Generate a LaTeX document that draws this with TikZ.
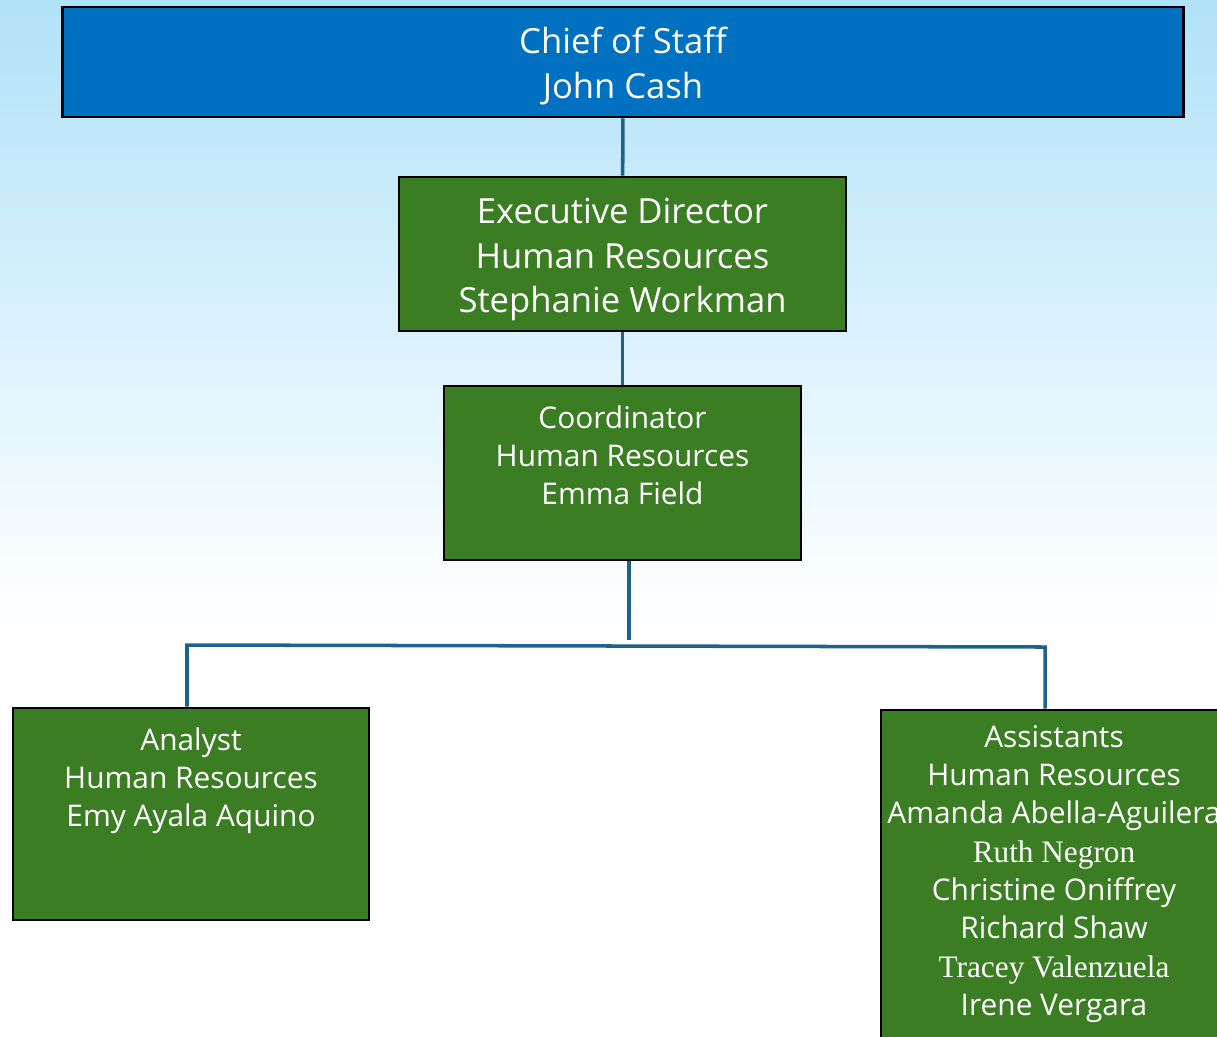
\documentclass[tikz,border=0pt]{standalone}
\usepackage{fontspec}
\setmainfont{Open Sans}
\newfontfamily\namefont{Liberation Serif}
\definecolor{skytop}{RGB}{176,226,248}
\definecolor{chiefblue}{RGB}{0,112,192}
\definecolor{unitgreen}{RGB}{59,125,35}
\definecolor{linkblue}{RGB}{30,98,138}

\begin{document}
\begin{tikzpicture}[x=0.02cm, y=-0.02cm,
    box/.style={rectangle, draw=black, line width=1.6pt, inner sep=0pt},
    bigtext/.style={text=white, align=center, inner sep=0pt, font=\fontsize{19.7}{25.5}\selectfont},
    smalltext/.style={text=white, align=center, inner sep=0pt, anchor=north, font=\fontsize{17}{21.8}\selectfont},
    link/.style={line width=2pt, linkblue}]
  \useasboundingbox (0,0) rectangle (1217,1036);
  \shade[top color=skytop, bottom color=white] (0,0) rectangle (1217,620);
  \fill[white] (0,620) rectangle (1217,1036);
  \node[box, fill=chiefblue, minimum width=22.44cm, minimum height=2.2cm] (chief) at (623,62) {};
  \node[bigtext] (chieftext) at (623,66) {Chief of Staff\\John Cash};
  \node[box, fill=unitgreen, minimum width=8.94cm, minimum height=3.08cm] (exec) at (622.5,254) {};
  \node[bigtext] (exectext) at (622.5,259.5) {Executive Director\\Human Resources\\Stephanie Workman};
  \node[box, fill=unitgreen, minimum width=7.14cm, minimum height=3.48cm] (coord) at (622.5,473) {};
  \node[smalltext] (coordtext) at (622.5,405) {Coordinator\\Human Resources\\Emma Field};
  \node[box, fill=unitgreen, minimum width=7.12cm, minimum height=4.24cm] (analyst) at (191,814) {};
  \node[smalltext] (analysttext) at (191,727) {Analyst\\Human Resources\\Emy Ayala Aquino};
  \node[box, fill=unitgreen, minimum width=6.92cm, minimum height=7cm] (assist) at (1054,885) {};
  \node[smalltext] (assisttext) at (1054,725) {Assistants\\Human Resources\\Amanda Abella-Aguilera\\{\namefont\fontsize{17.8}{21.8}\selectfont Ruth Negron}\\Christine Oniffrey\\Richard Shaw\\{\namefont\fontsize{17.8}{21.8}\selectfont Tracey Valenzuela}\\Irene Vergara};
  \coordinate (drop) at (629,640);
  \coordinate (lbend) at (187,645);
  \coordinate (rbend) at (1045,647);
  \draw[link] (chief) -- (exec);
  \draw[link] (exec) -- (coord);
  \draw[link] (coord.south -| drop) -- (drop);
  \draw[link] (analyst.north -| lbend) -- (lbend) -- (rbend) -- (assist.north -| rbend);
\end{tikzpicture}
\end{document}
